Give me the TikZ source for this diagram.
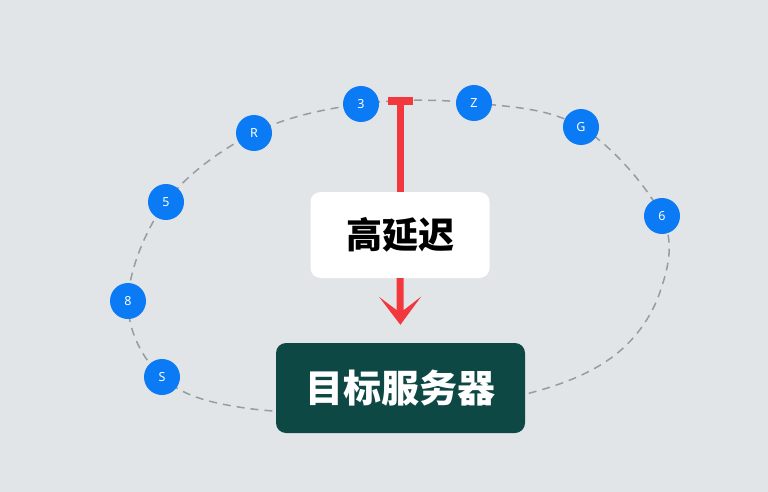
\documentclass[tikz,border=0pt]{standalone}
\usepackage{fontspec}
\setmainfont{Noto Sans}
\newfontfamily\cjk{Noto Sans CJK SC}
\usetikzlibrary{arrows.meta,positioning}

\definecolor{bgcol}{RGB}{226,229,232}
\definecolor{hopblue}{RGB}{10,122,245}
\definecolor{lagred}{RGB}{242,56,61}
\definecolor{srvteal}{RGB}{13,72,69}
\definecolor{ringgray}{RGB}{150,156,162}

\pgfdeclarelayer{bg}
\pgfdeclarelayer{ring}
\pgfsetlayers{bg,ring,main}

\tikzset{
  hop/.style={circle,fill=hopblue,minimum size=36pt,inner sep=0pt,
    text=white,font=\fontsize{12.5}{12.5}\selectfont\bfseries},
  ringline/.style={ringgray,line width=1.5pt,dash pattern=on 8pt off 6pt},
  lagline/.style={lagred,line width=7pt},
}

\begin{document}
\begin{tikzpicture}[x=1pt,y=-1pt]
    \begin{pgfonlayer}{bg}
    \fill[bgcol] (0,0) rectangle (768,492);
    \end{pgfonlayer}
    \useasboundingbox (0,0) rectangle (768,492);

    \node[hop] (n3) at (361,104) {3};
    \node[hop] (nZ) at (474,103) {Z};
    \node[hop] (nG) at (581,127) {G};
    \node[hop] (n6) at (662,216) {6};
    \node[hop] (nR) at (254,133) {R};
    \node[hop] (n5) at (166,202) {5};
    \node[hop] (n8) at (128,301) {8};
    \node[hop] (nS) at (162,377) {S};
    \coordinate (b1) at (660,292);
    \coordinate (b2) at (615,355);
    \coordinate (b3) at (530,393);
    \coordinate (b4) at (400,412);
    \coordinate (b5) at (245,408);

    \begin{pgfonlayer}{ring}
    \draw[ringline] plot[smooth cycle,tension=0.6] coordinates
      {(n3) (nZ) (nG) (n6) (b1) (b2) (b3) (b4) (b5) (nS) (n8) (n5) (nR)};
    \end{pgfonlayer}

    \node[fill=white,rounded corners=10pt,minimum width=179pt,minimum height=86pt,
      font=\cjk\bfseries\fontsize{36}{36}\selectfont] (lat) at (400,235) {高延迟};
    \node[fill=srvteal,rounded corners=10pt,minimum width=249pt,minimum height=90pt,
      text=white,font=\cjk\bfseries\fontsize{38}{38}\selectfont] (srv) at (400.5,388) {目标服务器};

    \coordinate (ttop) at (400,101);
    \draw[lagline] (lat.north) -- ([yshift=-4pt]ttop);
    \draw[lagred,line width=8pt] ([xshift=-12.5pt]ttop) -- ([xshift=12.5pt]ttop);
    \draw[lagline,-{Stealth[length=28pt,width=42pt,inset=16pt]},shorten >=18pt]
      (lat.south) -- (srv.north);
\end{tikzpicture}
\end{document}
